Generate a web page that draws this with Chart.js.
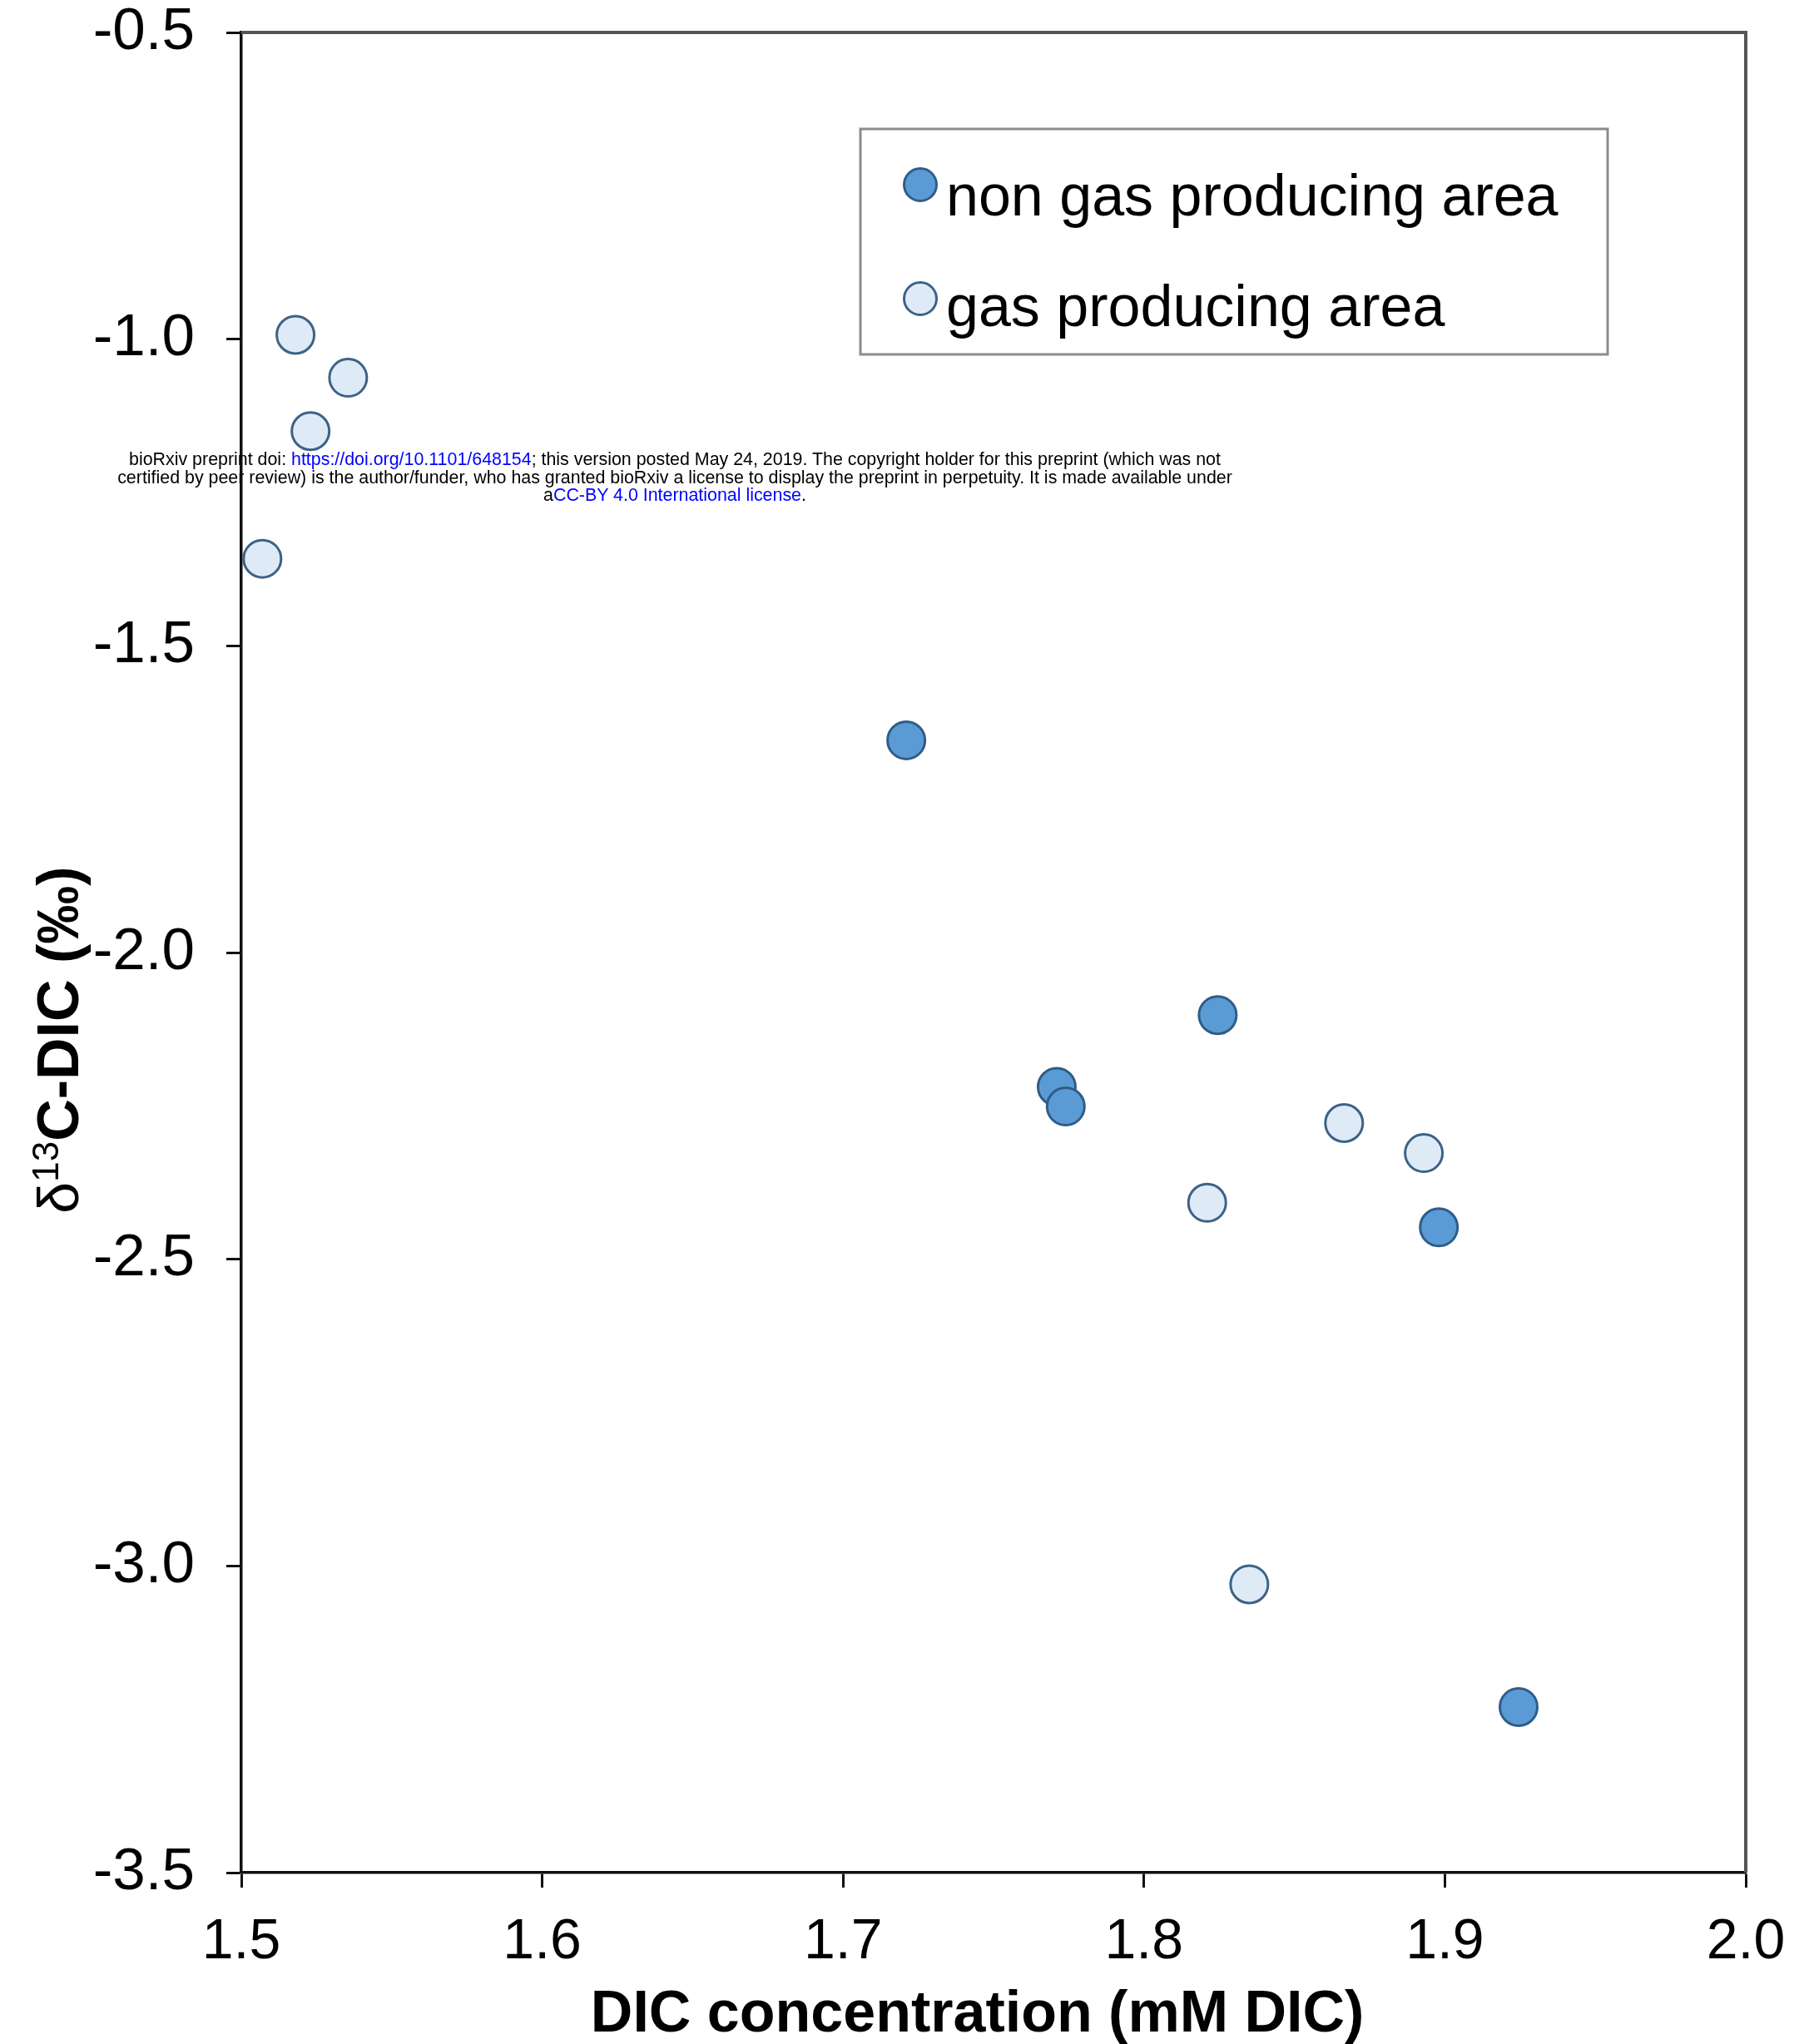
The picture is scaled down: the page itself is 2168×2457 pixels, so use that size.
<!DOCTYPE html>
<html lang="en">

<head>
    <meta charset="UTF-8">
    <title>DIC concentration vs d13C-DIC</title>
    <script src="https://cdn.jsdelivr.net/npm/chart.js@4.4.0/dist/chart.umd.min.js"></script>
    <style>
        body { margin: 0; background: #fff; }
        #wrap { position: relative; width: 2168px; height: 2457px; }
        #note {
            position: absolute; left: 61px; top: 542px; width: 1500px;
            font: 21.4px "Liberation Sans", Arial, sans-serif; line-height: 21.5px;
            text-align: center; color: #000;
        }
        #note span { color: #0000ff; }
    </style>
</head>

<body>
    <div id="wrap">
        <canvas id="myChart" width="2168" height="2457"></canvas>
        <div id="note">bioRxiv preprint doi: <span>https://doi.org/10.1101/648154</span>; this version posted May 24, 2019. The copyright holder for this preprint (which was not<br>certified by peer review) is the author/funder, who has granted bioRxiv a license to display the preprint in perpetuity. It is made available under<br>a<span>CC-BY 4.0 International license</span>.</div>
    </div>

    <script>
        // values
        const nonGasDIC = [1.721, 1.8245, 1.771, 1.774, 1.898, 1.9245]
        const nonGasD13C = [-1.654, -2.102, -2.219, -2.251, -2.448, -3.230]
        const gasDIC = [1.518, 1.5355, 1.523, 1.507, 1.8665, 1.893, 1.821, 1.835]
        const gasD13C = [-0.993, -1.063, -1.150, -1.358, -2.278, -2.327, -2.408, -3.030]

        const xTicks = [1.5, 1.6, 1.7, 1.8, 1.9, 2.0]
        const yTicks = [-3.5, -3.0, -2.5, -2.0, -1.5, -1.0, -0.5]

        const seriesNames = ['non gas producing area', 'gas producing area']

        const FONT = '"Liberation Sans", Arial, sans-serif'

        function toPoints(xs, ys) {
            return xs.map((x, i) => ({ x: x, y: ys[i] }))
        }

        // box around the plot (top + right sides)
        const frame = {
            id: 'frame',
            beforeDatasetsDraw(chart) {
                const a = chart.chartArea
                const ctx = chart.ctx
                ctx.save()
                ctx.strokeStyle = '#555'
                ctx.lineWidth = 4
                ctx.beginPath()
                ctx.moveTo(a.left, a.top)
                ctx.lineTo(a.right, a.top)
                ctx.lineTo(a.right, a.bottom)
                ctx.stroke()
                ctx.restore()
            }
        }

        // boxed legend inside the plot + y axis title with superscript
        const extras = {
            id: 'extras',
            afterDraw(chart) {
                const ctx = chart.ctx
                ctx.save()
                ctx.strokeStyle = '#8c8c8c'
                ctx.lineWidth = 3
                ctx.strokeRect(1034, 155, 898, 271)

                const rows = [{ cy: 222, base: 259 }, { cy: 359, base: 392 }]
                chart.data.datasets.forEach((ds, i) => {
                    ctx.beginPath()
                    ctx.arc(1106, rows[i].cy, 19.5, 0, Math.PI * 2)
                    ctx.fillStyle = ds.backgroundColor
                    ctx.fill()
                    ctx.lineWidth = 3
                    ctx.strokeStyle = ds.borderColor
                    ctx.stroke()
                    ctx.fillStyle = '#000'
                    ctx.font = '70px ' + FONT
                    ctx.textBaseline = 'alphabetic'
                    ctx.textAlign = 'left'
                    ctx.fillText(ds.label, 1137, rows[i].base)
                })

                // y title: δ13C-DIC (‰)
                const parts = [
                    { t: 'δ', f: '68px ' + FONT, dy: 0 },
                    { t: '13', f: '44px ' + FONT, dy: -24 },
                    { t: 'C-DIC (‰)', f: 'bold 70px ' + FONT, dy: 0 }
                ]
                let total = 0
                parts.forEach(p => { ctx.font = p.f; p.w = ctx.measureText(p.t).width; total += p.w })
                ctx.translate(94, 1250)
                ctx.rotate(-Math.PI / 2)
                let x = -total / 2
                ctx.fillStyle = '#000'
                ctx.textAlign = 'left'
                ctx.textBaseline = 'alphabetic'
                parts.forEach(p => {
                    ctx.font = p.f
                    ctx.fillText(p.t, x, p.dy)
                    x += p.w
                })
                ctx.restore()
            }
        }

        const chartData = {
            datasets: [{
                label: seriesNames[0],
                data: toPoints(nonGasDIC, nonGasD13C),
                backgroundColor: '#5b9bd5',
                borderColor: '#2f5d88',
                borderWidth: 3,
                pointRadius: 22.5,
                pointHoverRadius: 22.5
            }, {
                label: seriesNames[1],
                data: toPoints(gasDIC, gasD13C),
                backgroundColor: '#deebf7',
                borderColor: '#3d6286',
                borderWidth: 3,
                pointRadius: 22.5,
                pointHoverRadius: 22.5
            }]
        }

        const ctx = document.getElementById('myChart').getContext('2d')
        window.chart = new Chart(ctx, {
            type: 'scatter',
            data: chartData,
            plugins: [frame, extras],
            options: {
                responsive: false,
                animation: false,
                devicePixelRatio: 1,
                layout: { autoPadding: false, padding: { left: 0, top: 39, right: 70, bottom: 0 } },
                plugins: {
                    legend: { display: false },
                    tooltip: { enabled: false }
                },
                scales: {
                    x: {
                        type: 'linear',
                        min: 1.5,
                        max: 2.0,
                        afterBuildTicks: s => { s.ticks = xTicks.map(v => ({ value: v })) },
                        afterFit: s => { s.height = 206; s.paddingLeft = 0; s.paddingRight = 0 },
                        ticks: {
                            callback: v => v.toFixed(1),
                            color: '#000',
                            font: { family: FONT, size: 68 },
                            padding: 25,
                            maxRotation: 0
                        },
                        grid: {
                            drawOnChartArea: false,
                            drawTicks: true,
                            tickLength: 18,
                            tickWidth: 3,
                            tickColor: '#111'
                        },
                        border: { color: '#111', width: 3.5 },
                        title: {
                            display: true,
                            text: 'DIC concentration (mM DIC)\u00a0\u00a0',
                            color: '#000',
                            font: { family: FONT, size: 70, weight: 'bold' },
                            padding: { top: 0, bottom: -8 }
                        }
                    },
                    y: {
                        type: 'linear',
                        min: -3.5,
                        max: -0.5,
                        afterBuildTicks: s => { s.ticks = yTicks.map(v => ({ value: v })) },
                        afterFit: s => { s.width = 290; s.paddingTop = 0; s.paddingBottom = 0 },
                        ticks: {
                            callback: v => v.toFixed(1),
                            color: '#000',
                            font: { family: FONT, size: 71 },
                            padding: 38
                        },
                        grid: {
                            drawOnChartArea: false,
                            drawTicks: true,
                            tickLength: 18,
                            tickWidth: 3,
                            tickColor: '#111'
                        },
                        border: { color: '#111', width: 3.5 }
                    }
                }
            }
        })
    </script>
</body>

</html>
